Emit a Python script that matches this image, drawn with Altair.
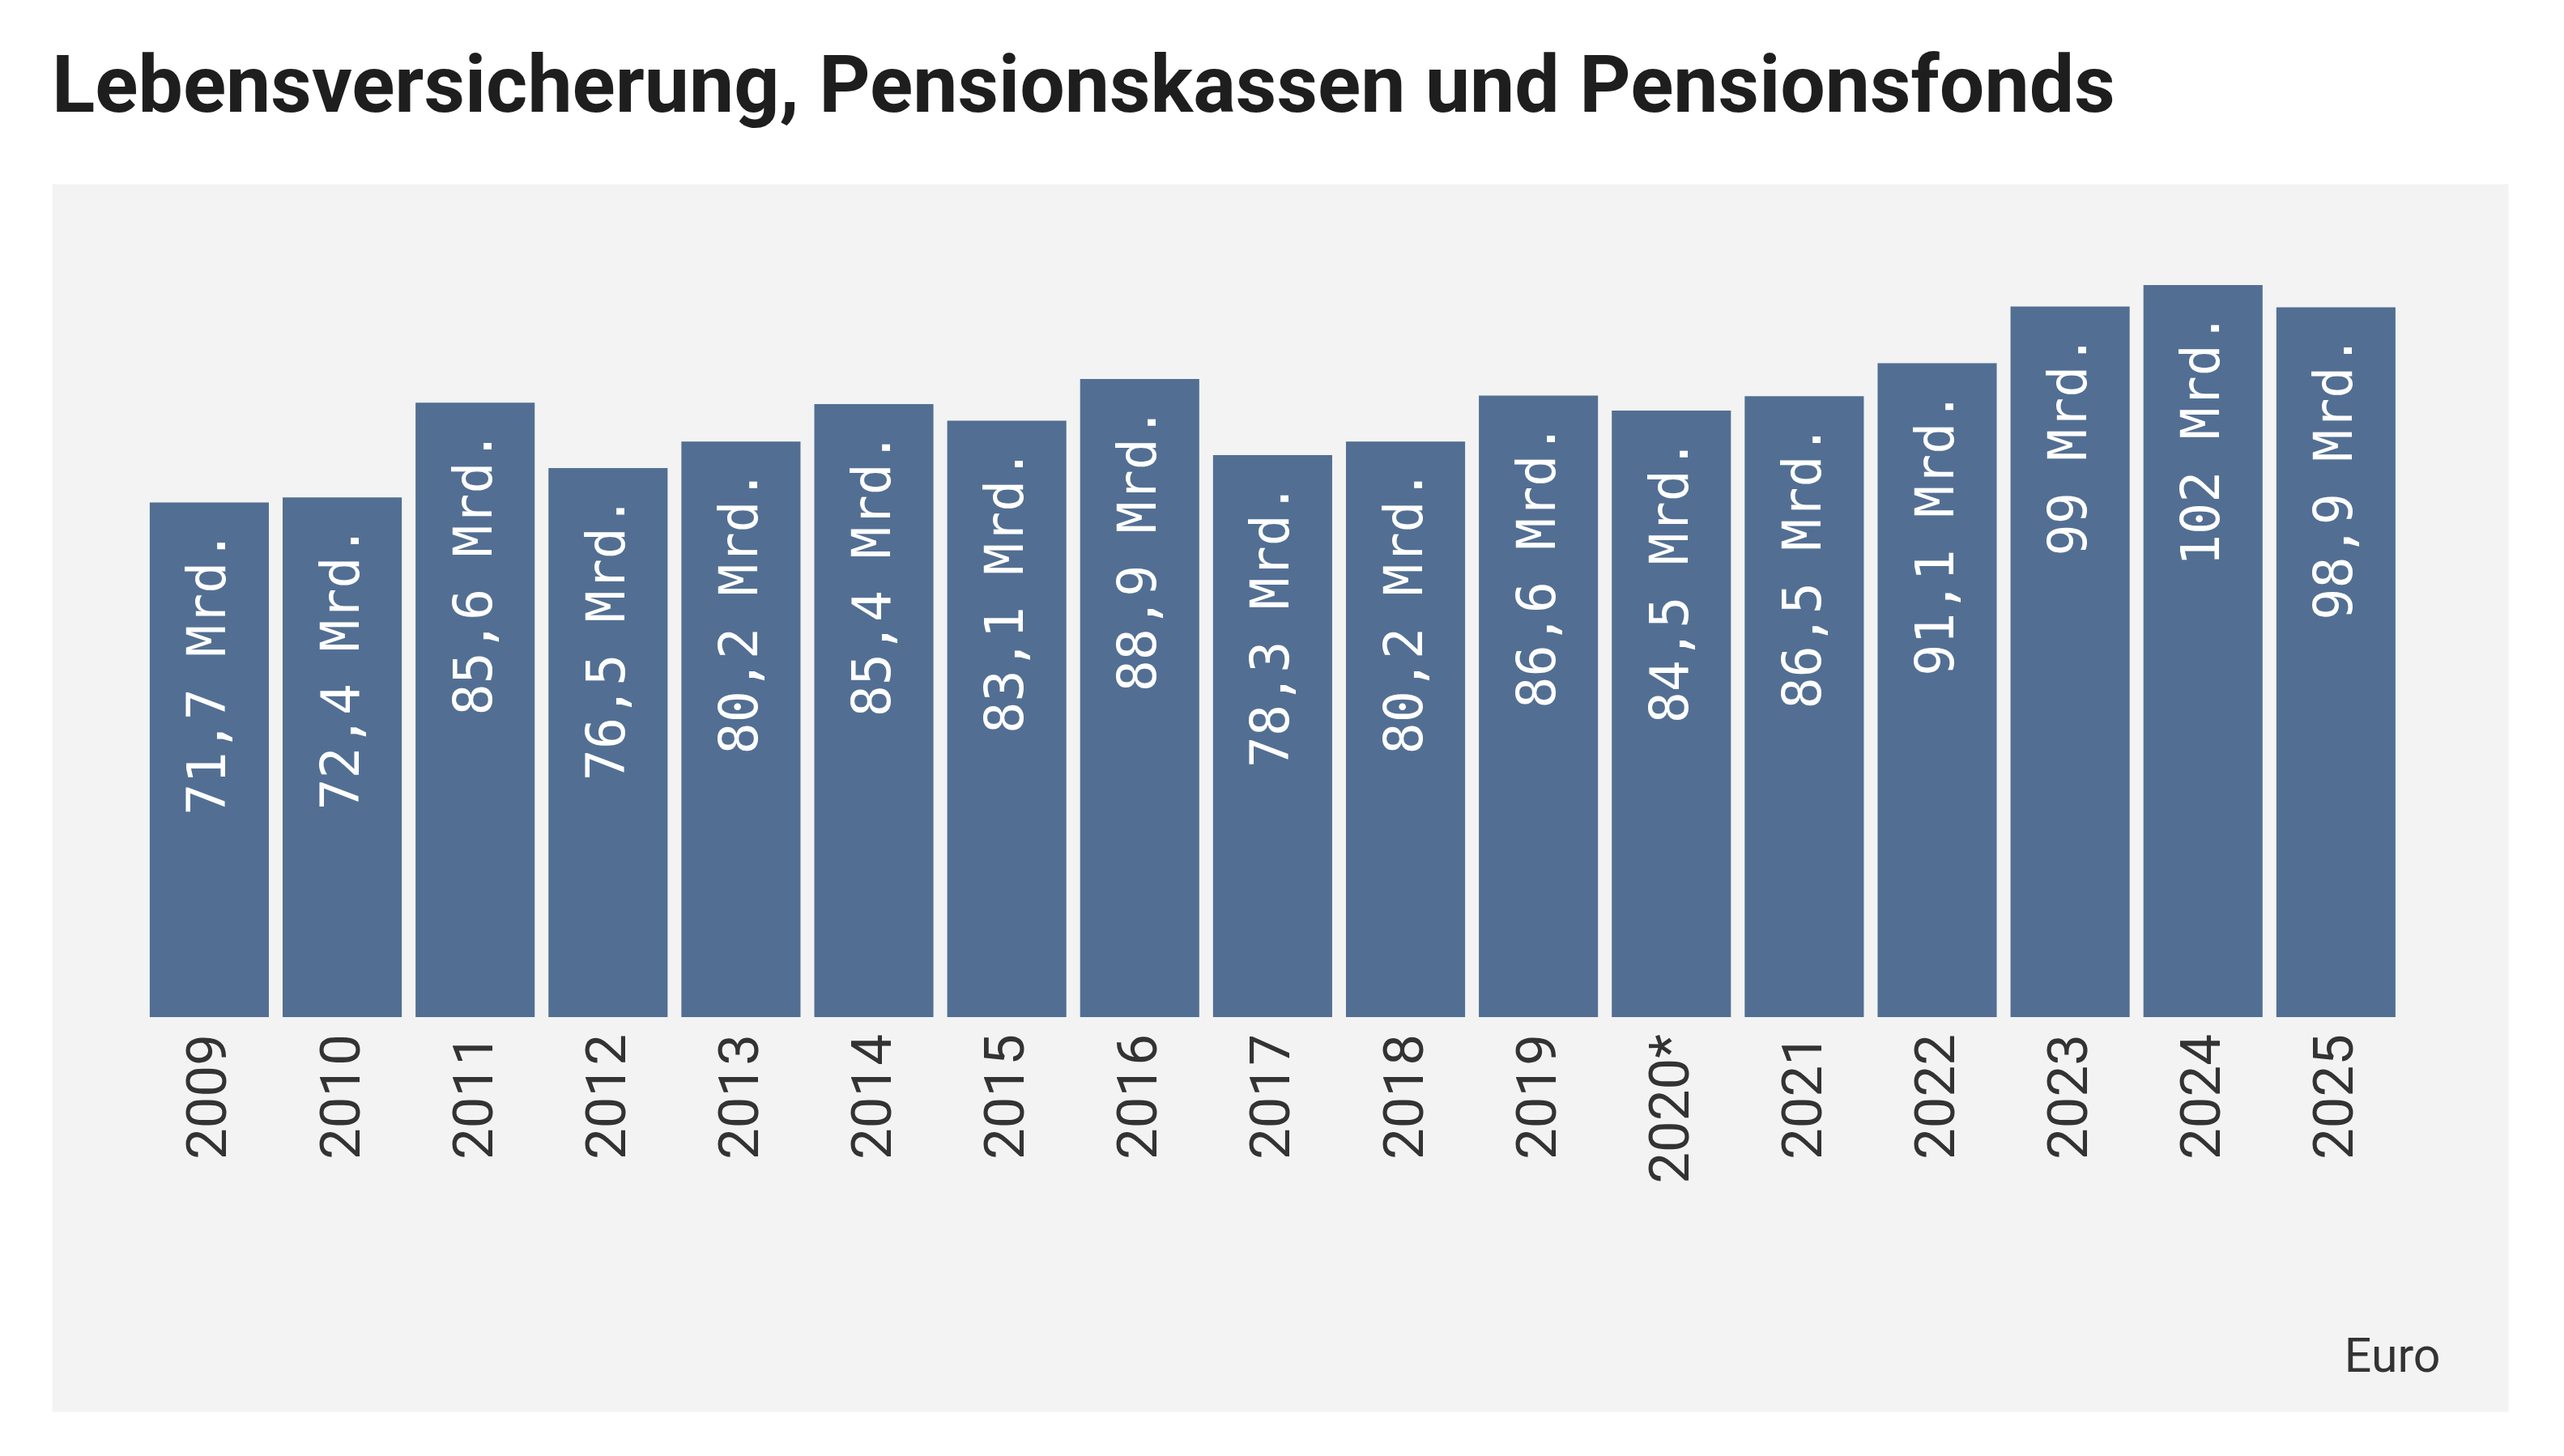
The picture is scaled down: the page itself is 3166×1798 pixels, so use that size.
import altair as alt
import pandas as pd

years = ["2009", "2010", "2011", "2012", "2013", "2014", "2015", "2016", "2017",
         "2018", "2019", "2020*", "2021", "2022", "2023", "2024", "2025"]
values = [71.7, 72.4, 85.6, 76.5, 80.2, 85.4, 83.1, 88.9, 78.3,
          80.2, 86.6, 84.5, 86.5, 91.1, 99.0, 102.0, 98.9]
labels = ["71,7 Mrd.", "72,4 Mrd.", "85,6 Mrd.", "76,5 Mrd.", "80,2 Mrd.", "85,4 Mrd.",
          "83,1 Mrd.", "88,9 Mrd.", "78,3 Mrd.", "80,2 Mrd.", "86,6 Mrd.", "84,5 Mrd.",
          "86,5 Mrd.", "91,1 Mrd.", "99 Mrd.", "102 Mrd.", "98,9 Mrd."]

df = pd.DataFrame({"year": years, "value": values, "label": labels})

W = 3033
H = 1516

x_enc = alt.X(
    "year:N",
    sort=None,
    scale=alt.Scale(paddingInner=0.1037, paddingOuter=0.792, align=0.465),
    axis=alt.Axis(
        labels=False, ticks=False, domain=False, grid=False,
        title="Euro", titleAnchor="end", titleAlign="right",
        titleBaseline="alphabetic", titleX=W - 84, titleY=-50,
        titleFont="Roboto", titleFontSize=59, titleFontWeight="normal",
        titleColor="#333333",
    ),
)
y_scale = alt.Scale(domain=[-54.95, 116.1], nice=False, zero=False)

base = alt.Chart(df).encode(x=x_enc)

bars = base.mark_bar(color="#526f93").encode(
    y=alt.Y("value:Q", scale=y_scale, axis=None),
    y2=alt.datum(0),
)

value_text = base.mark_text(
    angle=270, align="right", baseline="middle", dx=-34,
    font="DejaVu Sans Mono", fontSize=65, color="#ffffff",
).encode(
    y=alt.Y("value:Q", scale=y_scale, axis=None),
    text="label:N",
)

year_text = base.mark_text(
    angle=270, align="right", baseline="middle", dx=-21,
    font="Roboto", fontSize=69, color="#333333",
).encode(
    y=alt.datum(0),
    text="year:N",
)

chart = alt.layer(bars, value_text, year_text).properties(
    width=W,
    height=H,
    title=alt.TitleParams(
        "Lebensversicherung, Pensionskassen und Pensionsfonds",
        anchor="start", frame="group", baseline="alphabetic", offset=-9,
        font="Roboto", fontSize=98.5, fontWeight="bold", color="#1e1e1e",
    ),
    padding={"left": 56, "top": 219, "right": 40, "bottom": 30},
    autosize=alt.AutoSizeParams(type="none"),
    background="#ffffff",
).configure_view(
    fill="#f3f3f3", stroke="transparent"
)

chart.save("out.html", embed_options={"renderer": "svg", "actions": False})
